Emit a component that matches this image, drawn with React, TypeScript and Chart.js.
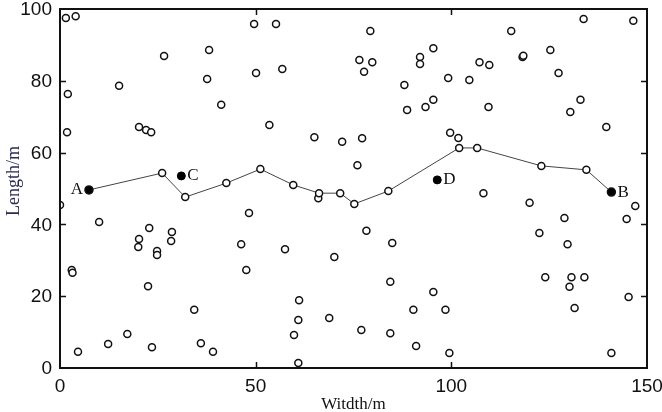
import React, { useEffect, useRef } from "react";
import { Chart, registerables } from "chart.js";

Chart.register(...registerables);

// Scattered open circles (Width m, Length m)
const openX = [0, 1.5, 4, 2, 1.8, 3, 3.2, 4.6, 10, 12.3, 15.1, 17.2, 20.2, 22, 23.3, 20.2, 20, 22.8, 22.5, 23.5, 24.8, 24.8, 28.6, 28.4, 26.6, 38.1, 37.6, 41.2, 34.3, 36, 39.1, 49.6, 55.2, 50.1, 56.8, 53.5, 65, 72.1, 77.2, 76, 79.3, 76.5, 79.8, 77.7, 88, 88.7, 92, 92, 95.4, 99.2, 104.6, 107.2, 109.7, 115.3, 118.2, 118.4, 125.3, 127.4, 133.8, 146.5, 93.4, 95.4, 109.5, 133, 130.4, 139.6, 99.7, 101.8, 108.2, 120, 128.9, 122.5, 129.7, 147, 144.8, 124, 130.7, 134, 130.2, 131.5, 145.3, 140.9, 95.4, 98.5, 99.5, 48.3, 46.3, 47.6, 57.5, 70.1, 78.3, 84.9, 84.4, 90.3, 91, 61.1, 60.9, 59.8, 68.8, 77, 84.4, 60.9, 66];
const openY = [45.4, 97.5, 98, 76.3, 65.7, 27.3, 26.5, 4.5, 40.7, 6.7, 78.6, 9.5, 67.1, 66.3, 65.7, 35.9, 33.7, 39, 22.8, 5.8, 32.6, 31.5, 37.9, 35.4, 86.9, 88.6, 80.5, 73.3, 16.2, 6.9, 4.5, 95.8, 95.8, 82.2, 83.3, 67.7, 64.3, 63, 64, 56.5, 93.9, 85.8, 85.2, 82.5, 78.8, 71.9, 86.6, 84.7, 89.1, 80.8, 80.2, 85.2, 84.4, 93.9, 86.6, 87, 88.6, 82.2, 97.2, 96.7, 72.7, 74.7, 72.7, 74.7, 71.3, 67.1, 65.5, 64.1, 48.7, 46, 41.8, 37.6, 34.5, 45.1, 41.5, 25.3, 25.3, 25.3, 22.6, 16.7, 19.8, 4.2, 21.2, 16.2, 4.2, 43.2, 34.5, 27.3, 33.1, 30.9, 38.2, 34.8, 24, 16.2, 6.1, 18.9, 13.4, 9.2, 13.9, 10.6, 9.7, 1.4, 47.3];

// Path from A to B
const pathX = [7.4, 26.1, 32, 42.5, 51.2, 59.6, 66.2, 71.6, 75.2, 83.9, 102, 106.6, 123, 134.5, 140.9];
const pathY = [49.6, 54.3, 47.6, 51.5, 55.4, 51, 48.7, 48.7, 45.7, 49.3, 61.3, 61.3, 56.3, 55.2, 49];

// Labelled points
const labelNames = ["A", "B", "C", "D"];
const labelX = [7.4, 140.9, 31, 96.4];
const labelY = [49.6, 49, 53.5, 52.4];
const labelSide = ["left", "right", "right", "right"];

const xTicks = [0, 50, 100, 150];
const yTicks = [0, 20, 40, 60, 80, 100];
const xTitle = "Witdth/m";
const yTitle = "Length/m";

const W = 662;
const H = 412;

const framePlugin = {
  id: "frameAndLabels",
  afterDatasetsDraw(chart: any) {
    const { ctx, chartArea: a, scales } = chart;
    const xs = scales.x;
    const ys = scales.y;
    ctx.save();
    // frame
    ctx.strokeStyle = "#111";
    ctx.lineWidth = 2;
    ctx.strokeRect(a.left, a.top, a.right - a.left, a.bottom - a.top);
    // inward ticks
    ctx.lineWidth = 1.5;
    ctx.beginPath();
    yTicks.slice(1, -1).forEach((v) => {
      const py = Math.round(ys.getPixelForValue(v)) + 0.5;
      ctx.moveTo(a.left, py);
      ctx.lineTo(a.left + 6, py);
      ctx.moveTo(a.right, py);
      ctx.lineTo(a.right - 6, py);
    });
    xTicks.slice(1, -1).forEach((v) => {
      const px = Math.round(xs.getPixelForValue(v)) + 0.5;
      ctx.moveTo(px, a.bottom);
      ctx.lineTo(px, a.bottom - 6);
      ctx.moveTo(px, a.top);
      ctx.lineTo(px, a.top + 6);
    });
    ctx.stroke();
    // tick labels
    ctx.fillStyle = "#111";
    ctx.font = "19px 'Liberation Sans', Arial, sans-serif";
    ctx.textBaseline = "middle";
    ctx.textAlign = "right";
    yTicks.forEach((v) => {
      ctx.fillText(String(v), a.left - 8, ys.getPixelForValue(v) + 1);
    });
    ctx.textAlign = "center";
    xTicks.forEach((v) => {
      ctx.fillText(String(v), xs.getPixelForValue(v), a.bottom + 19);
    });
    // point labels
    ctx.font = "17px 'Liberation Serif', serif";
    ctx.textBaseline = "middle";
    labelNames.forEach((n, i) => {
      const px = xs.getPixelForValue(labelX[i]);
      const py = ys.getPixelForValue(labelY[i]);
      if (labelSide[i] === "left") {
        ctx.textAlign = "right";
        ctx.fillText(n, px - 6, py);
      } else {
        ctx.textAlign = "left";
        ctx.fillText(n, px + 6, py);
      }
    });
    // axis titles
    ctx.font = "17px 'Liberation Serif', serif";
    ctx.textAlign = "center";
    ctx.textBaseline = "alphabetic";
    ctx.fillStyle = "#111";
    ctx.fillText(xTitle, (a.left + a.right) / 2, 409);
    ctx.save();
    ctx.translate(14, 181);
    ctx.rotate(-Math.PI / 2);
    ctx.fillStyle = "#2a2a55";
    ctx.textBaseline = "middle";
    ctx.font = "18px 'Liberation Serif', serif";
    ctx.fillText(yTitle, 0, 0);
    ctx.restore();
    ctx.restore();
  },
};

export default function App() {
  const ref = useRef<HTMLCanvasElement | null>(null);
  useEffect(() => {
    document.body.style.margin = "0";
    const canvas = ref.current;
    if (!canvas) return;
    const openPts = openX.map((x, i) => ({ x, y: openY[i] }));
    const pathPts = pathX.map((x, i) => ({ x, y: pathY[i] }));
    const cdPts = [2, 3].map((i) => ({ x: labelX[i], y: labelY[i] }));
    const pathFill = pathX.map((_, i) => (i === 0 || i === pathX.length - 1 ? "#000" : "#fff"));
    const pathRadius = pathX.map((_, i) => (i === 0 || i === pathX.length - 1 ? 4 : 3.5));
    const chart = new Chart(canvas, {
      type: "scatter",
      data: {
        datasets: [
          {
            data: pathPts,
            showLine: true,
            borderColor: "#444",
            borderWidth: 1,
            pointRadius: pathRadius,
            pointBackgroundColor: pathFill,
            pointBorderColor: "#111",
            pointBorderWidth: 1.5,
          } as any,
          {
            data: openPts,
            pointRadius: 3.5,
            pointBackgroundColor: "#fff",
            pointBorderColor: "#111",
            pointBorderWidth: 1.5,
          },
          {
            data: cdPts,
            pointRadius: 4,
            pointBackgroundColor: "#000",
            pointBorderColor: "#000",
            pointBorderWidth: 1,
          },
        ],
      },
      options: {
        responsive: false,
        animation: false,
        devicePixelRatio: 1,
        layout: { padding: { top: 9, right: 15, left: 0, bottom: 0 } },
        plugins: { legend: { display: false }, tooltip: { enabled: false } },
        scales: {
          x: {
            type: "linear",
            min: 0,
            max: 150,
            grid: { display: false, drawTicks: false },
            border: { display: false },
            ticks: { stepSize: 50, display: false },
            afterFit: (s: any) => {
              s.height = 44;
            },
          },
          y: {
            type: "linear",
            min: 0,
            max: 100,
            grid: { display: false, drawTicks: false },
            border: { display: false },
            ticks: { stepSize: 20, display: false },
            afterFit: (s: any) => {
              s.width = 60;
            },
          },
        },
      },
      plugins: [framePlugin],
    });
    return () => chart.destroy();
  }, []);
  return (
    <div style={{ position: "fixed", left: 0, top: 0, width: W, height: H, background: "#fff" }}>
      <canvas ref={ref} width={W} height={H} style={{ width: W, height: H, display: "block" }} />
    </div>
  );
}
